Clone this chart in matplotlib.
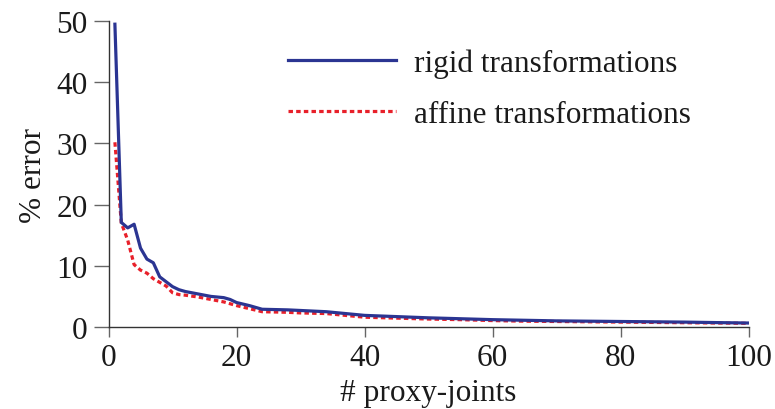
import matplotlib.pyplot as plt

# rigid transformations
rigid_x = [1, 2, 3, 4, 5, 6, 7, 8, 9, 10, 11, 12, 14, 16, 18, 19, 20, 22, 24, 26,
           28, 30, 32, 34, 36, 38, 40, 45, 50, 55, 60, 65, 70, 75, 80, 85, 90, 95, 100]
rigid_y = [49.5, 17.1, 16.2, 16.8, 12.9, 11.1, 10.5, 8.2, 7.4, 6.6, 6.1, 5.8, 5.4, 5.0, 4.8, 4.5, 4.0, 3.5, 2.9, 2.85,
           2.8, 2.7, 2.6, 2.5, 2.3, 2.1, 1.9, 1.7, 1.5, 1.35, 1.2, 1.1, 1.0, 0.95, 0.9, 0.85, 0.8, 0.72, 0.65]

# affine transformations
affine_x = [1, 2, 3, 4, 5, 6, 7, 8, 9, 10, 11, 12, 14, 16, 18, 20, 22, 24, 26,
            28, 30, 32, 34, 36, 38, 40, 45, 50, 55, 60, 65, 70, 75, 80, 85, 90, 95, 100]
affine_y = [30.2, 17.0, 14.2, 10.2, 9.3, 8.8, 7.9, 7.3, 6.7, 5.6, 5.3, 5.2, 4.9, 4.5, 4.1, 3.5, 3.0, 2.5, 2.45,
            2.4, 2.3, 2.25, 2.2, 2.0, 1.8, 1.6, 1.45, 1.3, 1.2, 1.05, 0.95, 0.9, 0.85, 0.8, 0.75, 0.7, 0.65, 0.6]

x_ticks = [0, 20, 40, 60, 80, 100]
y_ticks = [0, 10, 20, 30, 40, 50]

plt.rcParams['font.family'] = ['Liberation Serif', 'DejaVu Serif']
fs = 22.5

fig = plt.figure(figsize=(7.75, 4.1), dpi=100)
ax = fig.add_axes([0.14, 0.2, 0.826, 0.746])

ax.plot(rigid_x, rigid_y, color='#2b3592', linewidth=2.3, label='rigid transformations', zorder=3)
ax.plot(affine_x, affine_y, color='#e8202a', linewidth=2.3, linestyle=(0, (1.4, 1.0)),
        label='affine transformations', zorder=2)

ax.set_xlim(0, 100)
ax.set_ylim(0, 50)
ax.set_xticks(x_ticks)
ax.set_yticks(y_ticks)
ax.tick_params(direction='out', width=1, color='#666666', labelsize=fs, labelcolor='#1a1a1a')
ax.tick_params(axis='y', length=11, pad=4)
ax.tick_params(axis='x', length=7.5, pad=4)
for side in ['top', 'right']:
    ax.spines[side].set_visible(False)
for side in ['left', 'bottom']:
    ax.spines[side].set_color('#333333')
    ax.spines[side].set_linewidth(1)

ax.set_xlabel('# proxy-joints', fontsize=fs, labelpad=4, color='#1a1a1a')
ax.set_ylabel('% error', fontsize=fs, labelpad=6, color='#1a1a1a')

leg = ax.legend(loc='upper left', bbox_to_anchor=(0.28, 0.912), frameon=False, fontsize=fs,
                handlelength=3.45, handletextpad=0.6, labelspacing=0.71, borderpad=0, borderaxespad=0)
for t in leg.get_texts():
    t.set_color('#1a1a1a')

plt.savefig('out.png', dpi=100)
